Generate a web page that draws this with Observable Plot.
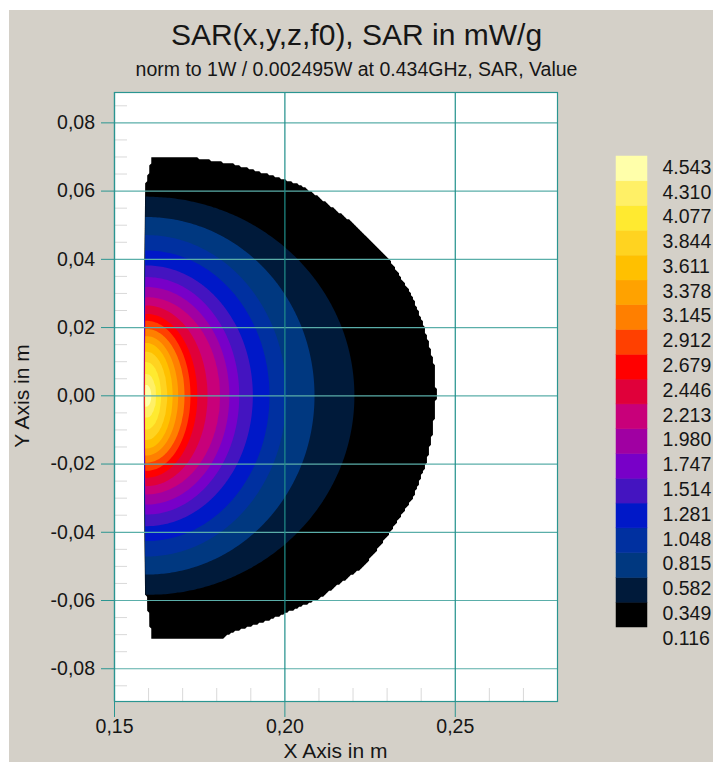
<!DOCTYPE html>
<html><head><meta charset="utf-8">
<script src="https://cdn.jsdelivr.net/npm/d3@7"></script>
<script src="https://cdn.jsdelivr.net/npm/@observablehq/plot@0.6"></script>
<style>
body{margin:0;background:#fff;width:713px;height:762px;overflow:hidden;position:relative;font-family:"Liberation Sans",Arial,sans-serif;color:#161616;}
#bg{position:absolute;left:9px;top:10px;width:704px;height:752px;background:#d4d0c8;}
.t{position:absolute;text-align:center;white-space:nowrap;line-height:1;}
#chart,#legend{position:absolute;}
#chart{left:0;top:0;}
#legend{left:600px;top:140px;}
</style></head><body>
<div id="bg"></div>
<div id="chart"></div>
<div id="legend"></div>
<div class="t" style="left:0;width:713px;font-size:30px;top:19.6px">SAR(x,y,z,f0), SAR in mW/g</div>
<div class="t" style="left:0;width:713px;font-size:19.5px;top:59.5px">norm to 1W / 0.002495W at 0.434GHz, SAR, Value</div>
<div class="t" style="left:114px;width:443px;font-size:21px;top:739.5px">X Axis in m</div>
<div class="t" style="left:21px;top:396px;font-size:21px;transform:translate(-50%,-50%) rotate(-90deg)">Y Axis in m</div>
<script>
// ---- data ----
const levels = [0.116,0.349,0.582,0.815,1.048,1.281,1.514,1.747,1.980,2.213,2.446,2.679,2.912,3.145,3.378,3.611,3.844,4.077,4.310,4.543];
const bandColors = ["#000000","#001a3a","#003880","#0030a0","#0018c8","#4414c0","#7800c8","#a000a2","#c8007a","#e0003a","#ff0000","#ff4000","#ff7f00","#ffa200","#ffc000","#ffd320","#ffea30","#fff066","#ffffaa"];
const yTicks = [-0.08,-0.06,-0.04,-0.02,0,0.02,0.04,0.06,0.08];
const yMinor = [-0.085,-0.075,-0.07,-0.065,-0.055,-0.05,-0.045,-0.035,-0.03,-0.025,-0.015,-0.01,-0.005,0.005,0.01,0.015,0.025,0.03,0.035,0.045,0.05,0.055,0.065,0.07,0.075,0.085];
const xTicks = [0.15,0.20,0.25];
const xMinor = [0.16,0.17,0.18,0.19,0.21,0.22,0.23,0.24,0.26,0.27];
const xDomain = [0.15, 0.28];
const yDomain = [-0.0896, 0.0889];

// contour boundaries (levels 0.349 .. 4.310): x where each contour crosses y=0, y where it meets the left edge
const contourXAtAxis = [0.2204,0.2087,0.2004,0.1955,0.1906,0.1866,0.1837,0.1810,0.1773,0.1743,0.1723,0.1706,0.1687,0.1671,0.1655,0.1637,0.1623,0.1608];
const contourYAtEdge = [0.0583,0.0524,0.0471,0.0426,0.0382,0.0348,0.0319,0.0289,0.0265,0.0240,0.0220,0.0196,0.0175,0.0155,0.0130,0.0100,0.0065,0.0032];
const fieldOriginX = 0.1594;

// body outline
const bodyRightY = [-0.0715,-0.069,-0.0662,-0.0632,-0.06,-0.05,-0.04,-0.03,-0.02,-0.01,0,0.0083,0.0201,0.0299,0.0401,0.0505,0.0601,0.0623,0.0652,0.0681,0.0701];
const bodyRightX = [0.1813,0.1861,0.1950,0.2019,0.2097,0.2235,0.2312,0.2378,0.2417,0.2437,0.2447,0.2442,0.2412,0.2373,0.2309,0.2205,0.2078,0.2038,0.1950,0.1851,0.1732];
const bodyLeftY = [-0.0715,-0.058,0.062,0.0701];
const bodyLeftX = [0.1607,0.1590,0.1590,0.1607];

// ---- field built from the read values ----
const rightEdge = d3.scaleLinear().domain(bodyRightY).range(bodyRightX);
const leftEdge = d3.scaleLinear().domain(bodyLeftY).range(bodyLeftX);
const contourLevels = levels.slice(1, 19);
const rx = contourXAtAxis.map(v => v - fieldOriginX);
function sar(x, y) {
  if (y < bodyRightY[0] || y > bodyRightY[bodyRightY.length - 1]) return -1;
  if (x < leftEdge(y) || x > rightEdge(y)) return -1;
  const dx = Math.max(0, x - fieldOriginX), dy = Math.abs(y);
  const n = contourLevels.length;
  const d = contourLevels.map((_, i) => Math.hypot(dx / rx[i], dy / contourYAtEdge[i]));
  if (d[0] > 1) return Math.max(0.2, contourLevels[0] - (d[0] - 1));
  if (d[n - 1] <= 1) return Math.min(4.5, contourLevels[n - 1] + (1 - d[n - 1]) * 0.4);
  for (let i = 0; i < n - 1; i++) {
    if (d[i] <= 1 && d[i + 1] > 1) {
      return contourLevels[i] + (contourLevels[i + 1] - contourLevels[i]) * (1 - d[i]) / (d[i + 1] - d[i]);
    }
  }
  return 0.2;
}

const colorOpts = {type: "threshold", domain: levels.slice(1, 19), range: bandColors};
const fmtComma = d => (d < 0 ? "-" : "") + Math.abs(d).toFixed(2).replace(".", ",");
const font = {fontFamily: "Liberation Sans, Arial, sans-serif", fontSize: "19.5px", background: "transparent", color: "#161616"};

const chart = Plot.plot({
  width: 713, height: 762,
  marginLeft: 114, marginRight: 156, marginTop: 92, marginBottom: 61,
  style: font,
  x: {domain: xDomain},
  y: {domain: yDomain},
  color: colorOpts,
  marks: [
    Plot.frame({fill: "white", stroke: "none"}),
    Plot.contour({x1: xDomain[0], x2: xDomain[1], y1: yDomain[0], y2: yDomain[1], value: sar, fill: "value", thresholds: levels.slice(0, 19)}),
    Plot.axisY(yMinor, {anchor: "left", tickSize: -13, tickFormat: () => "", stroke: "#d9d9d9", label: null}),
    Plot.axisX(xMinor, {anchor: "bottom", tickSize: -13, tickFormat: () => "", stroke: "#d9d9d9", label: null}),
    Plot.gridY(yTicks, {stroke: "#5aaea9", strokeOpacity: 1, strokeWidth: 1.2}),
    Plot.gridX(xTicks, {stroke: "#1f8f8b", strokeOpacity: 1, strokeWidth: 1.2}),
    Plot.frame({stroke: "#2a9591", strokeWidth: 1.2}),
    Plot.axisY(yTicks, {anchor: "left", tickSize: 13, tickPadding: 6.5, tickFormat: fmtComma, stroke: "#2a9591", fill: "#161616", label: null, fontSize: 19.5}),
    Plot.axisX(xTicks, {anchor: "bottom", tickSize: 16, tickPadding: 2, tickFormat: fmtComma, stroke: "#2a9591", fill: "#161616", label: null, fontSize: 19.5})
  ]
});
document.getElementById("chart").append(chart);

const bands = d3.range(bandColors.length).map(i => ({lo: levels[i], hi: levels[i + 1]}));
const legend = Plot.plot({
  width: 113, height: 520,
  marginTop: 16, marginBottom: 33, marginLeft: 16, marginRight: 66,
  style: font,
  y: {domain: [levels[0], levels[levels.length - 1]]},
  color: colorOpts,
  marks: [
    Plot.rect(bands, {y1: "lo", y2: "hi", fill: "lo", stroke: "lo", strokeWidth: 0.5}),
    Plot.axisY(levels, {anchor: "right", tickSize: 0, tickPadding: 15, dy: 11, tickFormat: d => d.toFixed(3), fill: "#161616", label: null, fontSize: 19.5})
  ]
});
document.getElementById("legend").append(legend);
</script>
</body></html>
